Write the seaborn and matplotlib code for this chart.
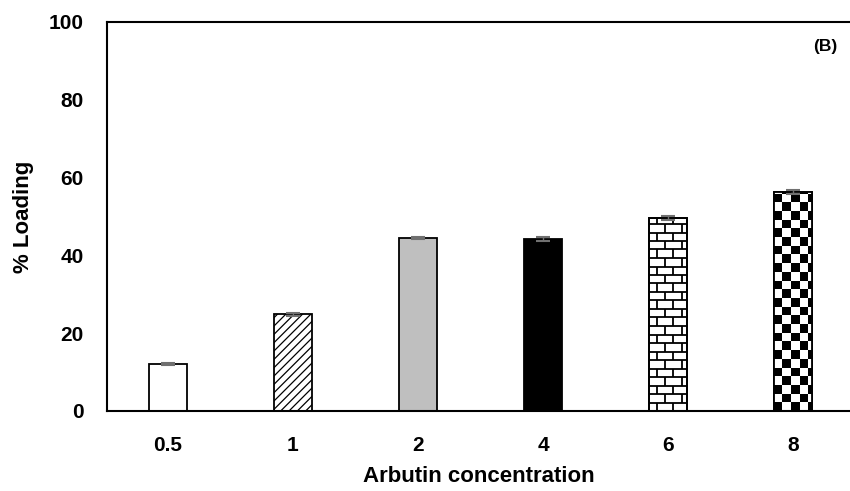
import numpy as np
import pandas as pd
import matplotlib
matplotlib.use("Agg")
import matplotlib.pyplot as plt
import seaborn as sns
from matplotlib.collections import LineCollection
from matplotlib.patches import Rectangle

# Data
concentrations = ["0.5", "1", "2", "4", "6", "8"]
loading = [12.1, 24.9, 44.5, 44.2, 49.6, 56.3]
loading_err = [0.3, 0.4, 0.3, 0.5, 0.6, 0.6]
y_ticks = [0, 20, 40, 60, 80, 100]
bar_faces = ["white", "white", "#BFBFBF", "black", "white", "white"]

sns.set_theme(style="white")
plt.rcParams["font.family"] = ["Liberation Sans", "DejaVu Sans"]
plt.rcParams["hatch.linewidth"] = 0.9

fig = plt.figure(figsize=(8.5, 4.91), dpi=100)
ax = fig.add_axes([107 / 850, 1 - 411 / 491, 743 / 850, (411 - 22) / 491])

df = pd.DataFrame({"conc": concentrations, "loading": loading})
sns.barplot(data=df, x="conc", y="loading", hue="conc", palette=bar_faces,
            saturation=1, legend=False, width=0.31, edgecolor="black",
            linewidth=1.3, errorbar=None, ax=ax)

bars = list(ax.patches)

# diagonal hatch
bars[1].set_hatch("////")

# brick texture
ppx = 125.0          # pixels per category unit
ppy = 389 / 100.0    # pixels per value unit
b = bars[4]
x0, w, h = b.get_x(), b.get_width(), b.get_height()
row_h = 8.5 / ppy
brick_w = 16.7 / ppx
segs = []
y = 0.0
row = 0
while y < h:
    y_top = min(y + row_h, h)
    segs.append([(x0, y_top), (x0 + w, y_top)])
    off = 0.0 if row % 2 == 0 else brick_w / 2
    xv = x0 + off + 8.0 / ppx
    while xv < x0 + w:
        segs.append([(xv, y), (xv, y_top)])
        xv += brick_w
    y += row_h
    row += 1
lc = LineCollection(segs, colors="black", linewidths=1.3, zorder=1.5)
ax.add_collection(lc)
lc.set_clip_path(b)

# checkerboard texture
b = bars[5]
x0, w, h = b.get_x(), b.get_width(), b.get_height()
sq_x = 8.7 / ppx
sq_y = 8.7 / ppy
nx = int(np.ceil(w / sq_x)) + 1
ny = int(np.ceil(h / sq_y)) + 1
xe = x0 + np.arange(nx + 1) * sq_x
ye = np.arange(ny + 1) * sq_y
checker = (np.add.outer(np.arange(ny), np.arange(nx)) % 2).astype(float)
mesh = ax.pcolormesh(xe, ye, checker, cmap="gray", vmin=0, vmax=1,
                     shading="flat", zorder=1.5)
mesh.set_clip_path(b)

# outlines for textured bars
for b in bars[4:]:
    ax.add_patch(Rectangle((b.get_x(), 0), b.get_width(), b.get_height(),
                           fill=False, edgecolor="black", linewidth=1.3,
                           zorder=1.6))

# error bars
ax.errorbar(range(len(concentrations)), loading, yerr=loading_err, fmt="none",
            ecolor="#707070", elinewidth=1, capsize=5, capthick=1.5, zorder=3)

ax.set_xlim(-0.488, 5.456)
ax.set_ylim(0, 100)
ax.set_yticks(y_ticks)
ax.tick_params(axis="both", length=0, labelsize=15, colors="black")
ax.tick_params(axis="y", pad=17)
ax.tick_params(axis="x", pad=18)
for lbl in ax.get_xticklabels() + ax.get_yticklabels():
    lbl.set_fontweight("bold")

ax.set_xlabel("Arbutin concentration", fontsize=16, fontweight="bold",
              color="black", labelpad=8)
ax.set_ylabel("% Loading", fontsize=16, fontweight="bold", color="black",
              labelpad=10)

for side in ["top", "left", "bottom"]:
    ax.spines[side].set_visible(True)
    ax.spines[side].set_color("black")
    ax.spines[side].set_linewidth(1.5)
ax.spines["right"].set_visible(False)

ax.text(0.9825, 0.936, "(B)", transform=ax.transAxes, ha="right",
        va="center", fontsize=12.5, fontweight="bold", color="black")

fig.savefig("out.png", dpi=100)
